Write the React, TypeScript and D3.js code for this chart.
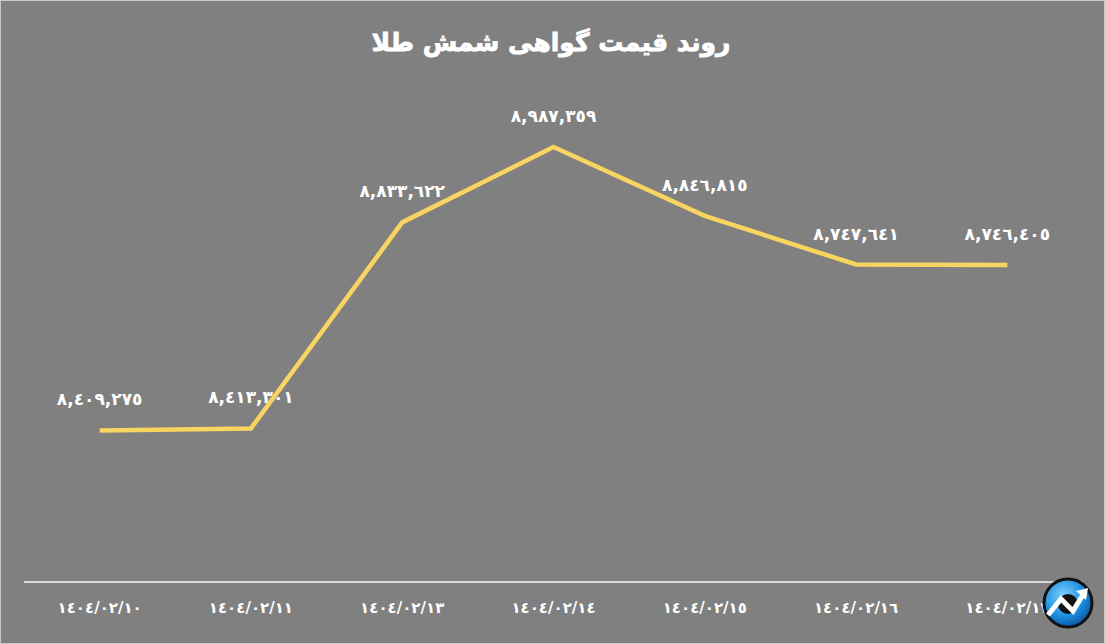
import React, { useEffect } from "react";
import * as d3 from "d3";

const dates = ["1404/02/10", "1404/02/11", "1404/02/13", "1404/02/14", "1404/02/15", "1404/02/16", "1404/02/17"];
const prices = [8409275, 8413301, 8833622, 8987359, 8846815, 8747641, 8746405];
const titleText = "روند قیمت گواهی شمش طلا";
const yDomain = [8100000, 9000000];

const W = 1105, H = 644;
const arabicDigits = "٠١٢٣٤٥٦٧٨٩";
const toAr = (s: string) => s.replace(/[0-9]/g, (d) => arabicDigits[+d]);

export default function App() {
  useEffect(() => { document.body.style.margin = "0"; }, []);
  const x = d3.scaleBand<string>().domain(dates).range([24, 1083]);
  const y = d3.scaleLinear().domain(yDomain).range([582, 140.8]);
  const cx = (d: string) => (x(d) as number) + x.bandwidth() / 2;
  const pts: [number, number][] = dates.map((d, i) => [cx(d), y(prices[i])]);
  const line = d3.line()(pts) as string;
  const fmt = d3.format(",");
  const font = "'DejaVu Sans', sans-serif";
  const lx = 1068, ly = 603;
  return (
    <svg width={W} height={H} style={{ display: "block" }}>
      <defs>
        <radialGradient id="lg" cx="40%" cy="35%" r="70%">
          <stop offset="0%" stopColor="#7fd0ff" />
          <stop offset="60%" stopColor="#1c8fe0" />
          <stop offset="100%" stopColor="#0a4f9a" />
        </radialGradient>
      </defs>
      <rect x={0.5} y={0.5} width={W - 1} height={H - 1} fill="#808080" stroke="#c8c8c8" />
      <text x={551} y={51} textAnchor="middle" fill="#fff" fontFamily={font} fontWeight="bold" fontSize={25} direction="rtl" stroke="#fff" strokeWidth={0.8}>{titleText}</text>
      <line x1={24} x2={1083} y1={y(yDomain[0])} y2={y(yDomain[0])} stroke="#d9d9d9" strokeWidth={2} />
      <path d={line} fill="none" stroke="#f8d461" strokeWidth={4.5} strokeLinejoin="miter" />
      {dates.map((d, i) => (
        <text key={"v" + i} x={cx(d)} y={y(prices[i]) - 25} textAnchor="middle" fill="#fff" fontFamily={font} fontWeight="bold" fontSize={17} direction="ltr">{toAr(fmt(prices[i]))}</text>
      ))}
      {dates.map((d, i) => (
        <text key={"d" + i} x={cx(d)} y={613} textAnchor="middle" fill="#fff" fontFamily={font} fontWeight="bold" fontSize={15} direction="ltr">{toAr(d)}</text>
      ))}
      <g>
        <circle cx={lx} cy={ly} r={24} fill="url(#lg)" stroke="#111" strokeWidth={3} />
        <circle cx={lx} cy={ly + 1} r={10} fill="#111" />
        <path d={`M${lx - 20},${ly + 12} L${lx - 7},${ly - 4} L${lx + 5},${ly + 8} L${lx + 16},${ly - 10}`} fill="none" stroke="#fff" strokeWidth={5} strokeLinejoin="miter" />
        <path d={`M${lx + 8},${ly - 12} L${lx + 20},${ly - 15} L${lx + 18},${ly - 3} Z`} fill="#fff" />
      </g>
    </svg>
  );
}
